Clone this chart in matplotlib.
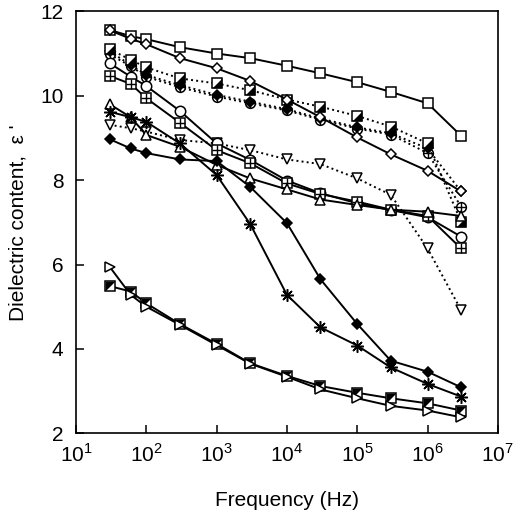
import matplotlib
matplotlib.use('Agg')
import matplotlib.pyplot as plt
from matplotlib.ticker import NullLocator

plt.rcParams['font.family'] = ['Liberation Sans', 'DejaVu Sans']
plt.rcParams['mathtext.fontset'] = 'custom'
plt.rcParams['mathtext.rm'] = 'Liberation Sans'

# frequency (Hz)
freq = [30, 60, 100, 300, 1e3, 3e3, 1e4, 3e4, 1e5, 3e5, 1e6, 3e6]
decades = [1, 2, 3, 4, 5, 6, 7]

# dielectric constant
sq_open = [11.56, 11.41, 11.34, 11.15, 11.00, 10.89, 10.71, 10.53, 10.32, 10.09, 9.82, 9.05]
dia_open = [11.55, 11.35, 11.22, 10.89, 10.65, 10.35, 9.91, 9.49, 9.01, 8.61, 8.22, 7.73]
sq_half_dot = [11.10, 10.85, 10.67, 10.41, 10.29, 10.13, 9.91, 9.74, 9.52, 9.27, 8.87, 7.01]
dia_fill_dot = [11.05, 10.73, 10.49, 10.25, 10.02, 9.86, 9.68, 9.46, 9.25, 9.11, 8.75, 7.73]
cplus_dot = [10.98, 10.70, 10.45, 10.20, 9.98, 9.82, 9.65, 9.43, 9.22, 9.08, 8.64, 7.37]
circ_open = [10.77, 10.45, 10.23, 9.64, 8.87, 8.48, 7.99, 7.69, 7.45, 7.29, 7.12, 6.66]
sq_plus = [10.47, 10.28, 9.94, 9.36, 8.71, 8.40, 7.92, 7.67, 7.49, 7.30, 7.15, 6.38]
tri_up = [9.80, 9.49, 9.07, 8.79, 8.36, 8.04, 7.78, 7.54, 7.41, 7.30, 7.25, 7.15]
tri_down_dot = [9.31, 9.23, 9.15, 8.95, 8.87, 8.71, 8.49, 8.38, 8.04, 7.65, 6.38, 4.92]
aster = [9.62, 9.49, 9.38, 8.87, 8.12, 6.96, 5.28, 4.51, 4.08, 3.56, 3.17, 2.87]
dia_fill = [8.97, 8.75, 8.64, 8.49, 8.45, 7.84, 6.98, 5.65, 4.59, 3.72, 3.46, 3.09]
sq_half = [5.49, 5.36, 5.08, 4.59, 4.12, 3.66, 3.36, 3.12, 2.96, 2.83, 2.71, 2.54]
tri_right = [5.95, 5.28, 5.00, 4.57, 4.09, 3.65, 3.34, 3.04, 2.83, 2.65, 2.54, 2.38]

fig = plt.figure(figsize=(5.17, 5.14), dpi=100)
ax = fig.add_subplot(111)
fig.subplots_adjust(left=0.147, right=0.963, top=0.978, bottom=0.157)

lw = 1.4
ms = 7
upper_left = [(-1, -1), (-1, 1), (1, 1), (-1, -1)]
lower_right = [(-1, -1), (1, 1), (1, -1), (-1, -1)]


def series(y, marker, ls='-', fill='white', size=ms, over=None):
    ax.plot(freq, y, color='black', ls=ls, lw=lw, marker=marker, ms=size,
            mfc=fill, mec='black', mew=1.1)
    # second glyph drawn on top (cross, half fill)
    if over is not None:
        ax.plot(freq, y, ls='none', marker=over, ms=size, mfc='black',
                mec='black', mew=1.0 if over == '+' else 0, color='black')


series(tri_down_dot, 'v', ls=':', size=7)
series(cplus_dot, 'o', ls=':', size=7, over='+')
series(dia_fill_dot, 'D', ls=':', fill='black', size=5.5)
series(sq_half_dot, 's', ls=':', over=lower_right)
series(sq_open, 's', size=7.5)
series(dia_open, 'D', size=5.5)
series(circ_open, 'o', size=7.5)
series(sq_plus, 's', over='+')
series(tri_up, '^', size=7)
series(aster, (8, 2, 0), size=9)
series(dia_fill, 'D', fill='black', size=5.5)
series(sq_half, 's', over=upper_left)
series(tri_right, '>', size=7)

ax.set_xscale('log')
ax.set_xlim(10, 1e7)
ax.set_ylim(2, 12)
ax.set_xticks([10.0 ** d for d in decades])
ax.set_xticklabels([r'$10^{%d}$' % d for d in decades])
ax.set_yticks([2, 4, 6, 8, 10, 12])
ax.xaxis.set_minor_locator(NullLocator())
ax.tick_params(direction='in', length=6, width=1.1, top=False, right=False,
               labelsize=15, pad=9)
ax.tick_params(axis='x', pad=7)
for s in ax.spines.values():
    s.set_linewidth(1.2)

ax.set_xlabel('Frequency (Hz)', fontsize=15, labelpad=18)
ax.set_ylabel("Dielectric content,  \u03b5 '", fontsize=15, labelpad=9)

fig.savefig('out.png', dpi=100)
